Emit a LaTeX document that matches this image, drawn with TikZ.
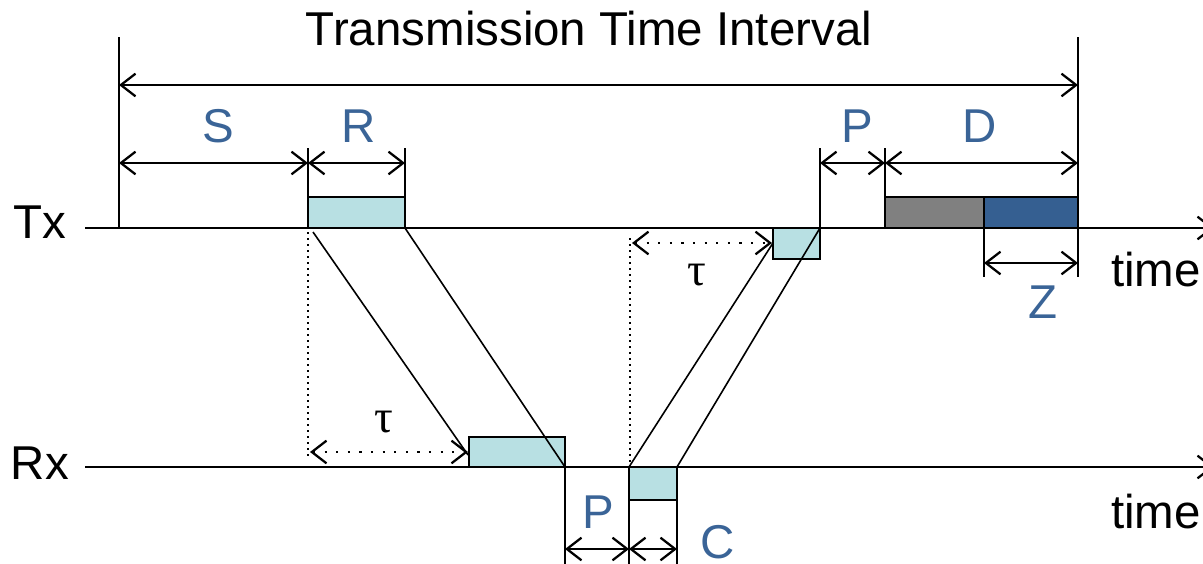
\documentclass[tikz,border=0pt]{standalone}
\usepackage{fontspec}
\setmainfont{Liberation Sans}
\newfontfamily\serifgr{Liberation Serif}
\usetikzlibrary{arrows.meta}
\definecolor{lblue}{HTML}{3A6497}
\definecolor{cyanbox}{HTML}{B8E0E3}
\definecolor{dgray}{HTML}{808080}
\definecolor{dblue}{HTML}{355F91}
\begin{document}
\begin{tikzpicture}[x=0.75pt,y=-0.75pt,
  ln/.style={line width=1.7pt},
  diag/.style={line width=1.2pt},
  dim/.style={line width=1.7pt,{Straight Barb[length=11pt,width=17pt]}-{Straight Barb[length=11pt,width=17pt]}},
  dotdim/.style={line width=1.7pt,dash pattern=on 1.7pt off 7pt,{Straight Barb[length=11pt,width=17pt]}-{Straight Barb[length=11pt,width=17pt]}},
  dotv/.style={line width=1.3pt,dash pattern=on 1.3pt off 3.2pt},
  axis/.style={line width=1.7pt,-{Straight Barb[length=11pt,width=17pt]}},
  pkt/.style={line width=1.7pt,draw=black,fill=cyanbox},
  big/.style={font=\fontsize{35.6}{40}\selectfont,inner sep=0pt},
  lbl/.style={big,text=lblue},
  tau/.style={font=\serifgr\fontsize{35}{40}\selectfont,inner sep=0pt}
]
\useasboundingbox (0,0) rectangle (1203,564);
\clip (0,0) rectangle (1203,564);

% coordinates
\coordinate (txA) at (85,228);   \coordinate (txB) at (1214,228);
\coordinate (rxA) at (85,467);   \coordinate (rxB) at (1214,467);
\coordinate (L0) at (119,37);    \coordinate (L1) at (119,228);
\coordinate (Rt0) at (1078,37);  \coordinate (Rt1) at (1078,277);
\coordinate (s0) at (308,148);   \coordinate (s1) at (308,228);
\coordinate (r0) at (405,148);   \coordinate (r1) at (405,197);
\coordinate (p0) at (820,148);   \coordinate (p1) at (820,228);
\coordinate (d0) at (885,148);   \coordinate (d1) at (885,228);
\coordinate (z0) at (984,228);   \coordinate (z1) at (984,277);

% axes
\draw[axis] (txA) -- (txB);
\draw[axis] (rxA) -- (rxB);

% packets
\coordinate (Rtx1) at (308,197); \coordinate (Rtx2) at (405,228);
\draw[pkt] (Rtx1) rectangle (Rtx2);
\coordinate (Rrx1) at (469,437); \coordinate (Rrx2) at (565,467);
\draw[pkt] (Rrx1) rectangle (Rrx2);
\coordinate (Crx1) at (629,467); \coordinate (Crx2) at (677,500);
\draw[pkt] (Crx1) rectangle (Crx2);
\coordinate (Ctx1) at (773,228); \coordinate (Ctx2) at (820,259);
\draw[pkt] (Ctx1) rectangle (Ctx2);
\coordinate (G1) at (885,197); \coordinate (G2) at (984,228);
\draw[line width=1.7pt,fill=dgray] (G1) rectangle (G2);
\coordinate (B1) at (984,197); \coordinate (B2) at (1078,228);
\draw[line width=1.7pt,fill=dblue] (B1) rectangle (B2);

% propagation lines
\coordinate (dn1a) at (313,232); \coordinate (dn1b) at (468,455);
\coordinate (up1b) at (773,243);
\coordinate (up2a) at (677,467); \coordinate (up2b) at (820,228);
\draw[diag] (dn1a) -- (dn1b);
\draw[diag] (Rtx2) -- (Rrx2);
\draw[diag] (Crx1) -- (up1b);
\draw[diag] (up2a) -- (up2b);

% dotted references
\coordinate (v1a) at (308,232); \coordinate (v1b) at (308,458);
\draw[dotv] (v1a) -- (v1b);
\coordinate (v2a) at (630,238); \coordinate (v2b) at (630,467);
\draw[dotv] (v2a) -- (v2b);
\coordinate (t1a) at (310,452); \coordinate (t1b) at (468,452);
\draw[dotdim] (t1a) -- (t1b);
\coordinate (t2a) at (632,243); \coordinate (t2b) at (772,243);
\draw[dotdim] (t2a) -- (t2b);

% vertical extension lines
\draw[ln] (L0) -- (L1);
\draw[ln] (Rt0) -- (Rt1);
\draw[ln] (s0) -- (s1);
\draw[ln] (r0) -- (r1);
\draw[ln] (p0) -- (p1);
\draw[ln] (d0) -- (d1);
\draw[ln] (z0) -- (z1);
\coordinate (q0) at (565,467); \coordinate (q1) at (565,566);
\coordinate (c0) at (629,500); \coordinate (c1) at (629,566);
\coordinate (e0) at (677,500); \coordinate (e1) at (677,566);
\draw[ln] (q0) -- (q1);
\draw[ln] (c0) -- (c1);
\draw[ln] (e0) -- (e1);

% dimension arrows
\coordinate (tti0) at (119,85);  \coordinate (tti1) at (1078,85);
\coordinate (sa) at (119,163);   \coordinate (sb) at (308,163);
\coordinate (rb) at (405,163);
\coordinate (pa) at (820,163);   \coordinate (pb) at (885,163);
\coordinate (db) at (1078,163);
\coordinate (za) at (984,263);   \coordinate (zb) at (1078,263);
\coordinate (bpa) at (565,549);  \coordinate (bpb) at (629,549);
\coordinate (bcb) at (677,549);
\draw[dim] (tti0) -- (tti1);
\draw[dim] (sa) -- (sb);
\draw[dim] (sb) -- (rb);
\draw[dim] (pa) -- (pb);
\draw[dim] (pb) -- (db);
\draw[dim] (za) -- (zb);
\draw[dim] (bpa) -- (bpb);
\draw[dim] (bpb) -- (bcb);

% texts
\node[big,anchor=base] (title) at (589,45) {Transmission Time Interval};
\node[big,anchor=base] (tx) at (40,238) {Tx};
\node[big,anchor=base] (rx) at (40,479) {Rx};
\node[big,anchor=base] (time1) at (1156,286) {time};
\node[big,anchor=base] (time2) at (1156,528) {time};
\node[lbl,anchor=base] (S) at (218,142) {S};
\node[lbl,anchor=base] (R) at (359,142) {R};
\node[lbl,anchor=base] (P1) at (857,142) {P};
\node[lbl,anchor=base] (D) at (980,142) {D};
\node[lbl,anchor=base] (Z) at (1043,318) {Z};
\node[lbl,anchor=base] (P2) at (598,528) {P};
\node[lbl,anchor=base] (C) at (718,558) {C};
\node[tau,anchor=base] (tau1) at (384,432) {τ};
\node[tau,anchor=base] (tau2) at (697,285) {τ};
\end{tikzpicture}
\end{document}
